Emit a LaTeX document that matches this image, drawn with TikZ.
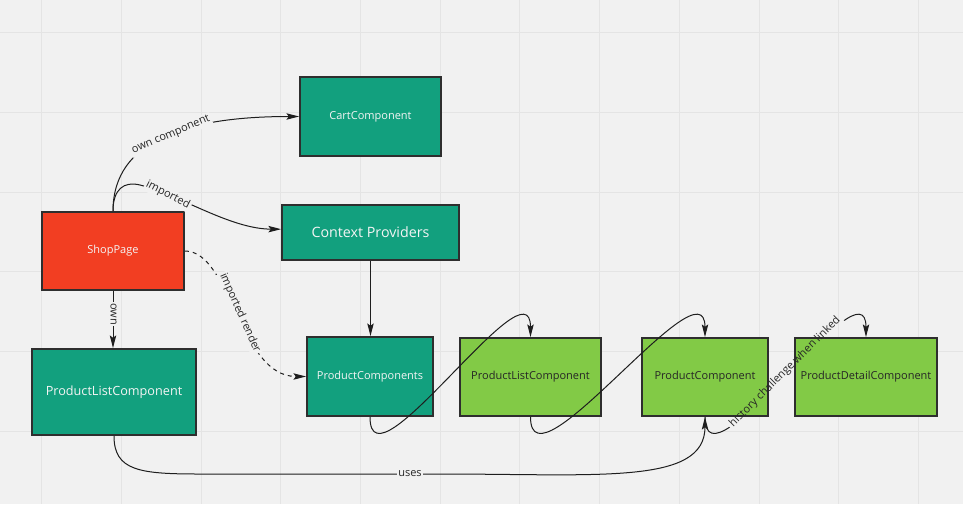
\documentclass[tikz,border=0pt]{standalone}
\usepackage{fontspec}
\setmainfont{Open Sans}
\usetikzlibrary{arrows.meta}
\definecolor{bg}{HTML}{F1F1F1}
\definecolor{gridc}{HTML}{E4E4E4}
\definecolor{tealbox}{HTML}{12A07E}
\definecolor{redbox}{HTML}{F23E22}
\definecolor{greenbox}{HTML}{82CA46}
\definecolor{boxline}{HTML}{2E2E2E}
\definecolor{edgec}{HTML}{1E1E1E}
\definecolor{txtdark}{HTML}{262626}
\definecolor{txtlight}{HTML}{F4F4F4}
\begin{document}
\begin{tikzpicture}[x=0.75pt,y=-0.75pt,
  box/.style={draw=boxline,line width=1.4pt,inner sep=0pt,align=center},
  tealnode/.style={box,fill=tealbox,text=txtlight},
  rednode/.style={box,fill=redbox,text=txtlight},
  greennode/.style={box,fill=greenbox,text=txtdark},
  fs/.style={font=\fontsize{8.25}{10}\selectfont},
  edge/.style={draw=edgec,line width=0.75pt},
  arr/.style={edge,-{Stealth[length=9.5pt,width=4.8pt,inset=1.8pt]}},
  lbl/.style={fill=bg,inner sep=1.2pt,text=txtdark,font=\fontsize{8.25}{10}\selectfont},
  clearlbl/.style={inner sep=1.6pt,text=txtdark,font=\fontsize{8.25}{10}\selectfont}
]
% background and grid
\fill[bg] (0,0) rectangle (963,504);
\useasboundingbox (0,0) rectangle (963,504);
\foreach \k in {0,...,11}{
  \draw[gridc,line width=0.75pt] ({41.7+79.7*\k},0) -- ({41.7+79.7*\k},504);
}
\foreach \k in {0,...,5}{
  \draw[gridc,line width=0.75pt] (0,{32.6+79.7*\k}) -- (963,{32.6+79.7*\k});
}

% nodes
\node[tealnode,fs,minimum width=105.75pt,minimum height=59.25pt] (cart) at (370.5,116.5) {CartComponent};
\node[tealnode,font=\fontsize{10.7}{13}\selectfont,minimum width=132.75pt,minimum height=41.25pt] (ctx) at (370.5,232.5) {Context Providers};
\node[rednode,fs,minimum width=106.5pt,minimum height=58.5pt] (shop) at (113,251) {ShopPage};
\node[tealnode,font=\fontsize{9.5}{12}\selectfont,minimum width=123pt,minimum height=64.5pt] (plc) at (114,392) {ProductListComponent};
\node[tealnode,fs,minimum width=94.5pt,minimum height=59.25pt] (pc) at (370,376.5) {ProductComponents};
\node[greennode,fs,minimum width=105.75pt,minimum height=58.5pt] (gpl) at (530.5,377) {ProductListComponent};
\node[greennode,fs,minimum width=94.5pt,minimum height=58.5pt] (prc) at (705,377) {ProductComponent};
\node[greennode,fs,minimum width=106.5pt,minimum height=58.5pt] (pdc) at (866,377) {ProductDetailComponent};

% connectors
\draw[arr] (shop.north) .. controls +(0,-72) and +(-110,0) .. (cart.west);
\draw[arr] (shop.north) .. controls +(0,-22) and (124,181) .. (140,185)
  .. controls (180,195) and (230,229) .. ([yshift=2.5pt]ctx.west);
\draw[arr,dash pattern=on 3pt off 3pt] (shop.east) .. controls +(46,0) and +(-67,0) .. (pc.west);
\draw[arr] (shop.south) -- (shop.south |- plc.north);
\draw[arr] (ctx.south) -- (ctx.south |- pc.north);
\draw[arr] (pc.south) .. controls +(0,80) and +(0,-80) .. (gpl.north);
\draw[arr] (gpl.south) .. controls +(0,80) and +(0,-80) .. (prc.north);
\draw[arr] (plc.south) .. controls +(0,35) and (140,474) .. (200,474)
  -- node[lbl,pos=0.875] (luses) {uses} (440,474)
  .. controls (600,474) and (705,485) .. (prc.south);

% label without background, the connector is cut out under it
\node[clearlbl,rotate=45] (lhist) at (785,372) {history challenge when linked};
\begin{scope}
  \clip (0,0) -- (963,0) -- (963,504) -- (0,504) -- cycle
    (lhist.south west) -- (lhist.south east) -- (lhist.north east) -- (lhist.north west) -- cycle;
  \draw[arr] (prc.south) .. controls +(0,80) and +(0,-80) .. (pdc.north);
\end{scope}

% labels
\node[lbl,rotate=23] (lown) at (171,135) {own component};
\node[lbl,rotate=-27] (limp) at (168,195) {imported};
\node[lbl,rotate=-66] (lrender) at (240,313) {imported render};
\node[lbl,rotate=-90] (lo) at (113.5,314) {own};
\end{tikzpicture}
\end{document}
